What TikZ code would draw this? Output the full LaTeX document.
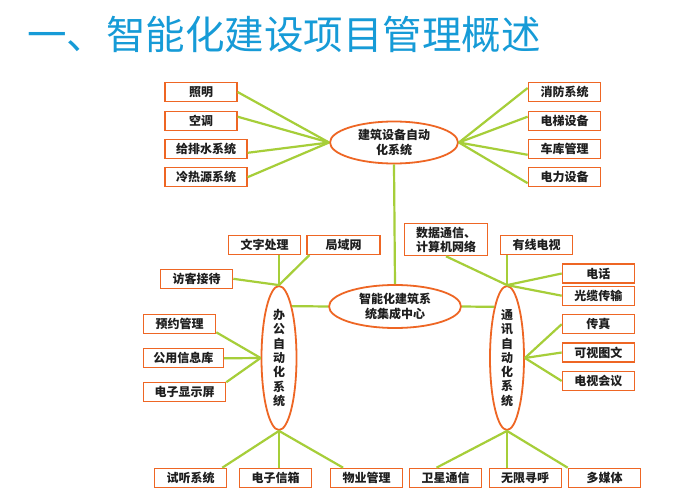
\documentclass[tikz,border=0pt]{standalone}
\usepackage{fontspec}
\setmainfont{Noto Sans CJK SC}
\usetikzlibrary{shapes.geometric}
\definecolor{boxor}{RGB}{238,102,36}
\definecolor{lngreen}{RGB}{166,206,57}
\definecolor{titleblue}{RGB}{22,155,215}
\definecolor{txt}{RGB}{30,30,30}
\begin{document}
\begin{tikzpicture}[x=1pt,y=-1pt,
  box/.style={draw=boxor,line width=1.2pt,fill=white,minimum height=19pt,inner sep=0pt,
    font=\fontsize{12}{14}\selectfont\bfseries,text=txt},
  oval/.style={ellipse,draw=boxor,line width=1.8pt,fill=white,inner sep=0pt,align=center,
    font=\fontsize{12}{14.3}\selectfont\bfseries,text=txt},
  link/.style={draw=lngreen,line width=2.2pt}]
\useasboundingbox[fill=white] (0,0) rectangle (681,495);
% title
\node[anchor=west,inner sep=0pt,text=titleblue,font=\fontsize{39.5}{44}\selectfont] (title) at (27,34) {一、智能化建设项目管理概述};
% ellipses
\node[oval,minimum width=128pt,minimum height=42pt] (bldg) at (394,142.5) {建筑设备自动\\化系统};
\node[oval,minimum width=132pt,minimum height=43pt] (center) at (395,306.5) {智能化建筑系\\统集成中心};
\node[oval,minimum width=35pt,minimum height=144pt] (office) at (279,358) {办\\公\\自\\动\\化\\系\\统};
\node[oval,minimum width=34pt,minimum height=144pt] (comm) at (507,358) {通\\讯\\自\\动\\化\\系\\统};
% building boxes
\node[box,minimum width=72pt] (zm) at (201,92) {照明};
\node[box,minimum width=72pt] (kt) at (201,120.7) {空调};
\node[box,minimum width=82pt] (gps) at (206,148.8) {给排水系统};
\node[box,minimum width=82pt] (lry) at (206,177.2) {冷热源系统};
\node[box,minimum width=72.5pt] (xf) at (564.5,92) {消防系统};
\node[box,minimum width=72.5pt] (dt) at (564.5,120.7) {电梯设备};
\node[box,minimum width=72.5pt] (ck) at (564.5,148.8) {车库管理};
\node[box,minimum width=72.5pt] (dl) at (564.5,177.2) {电力设备};
% office boxes
\node[box,minimum width=72.5pt] (wz) at (264.5,245) {文字处理};
\node[box,minimum width=73pt] (jy) at (343.5,245) {局域网};
\node[box,minimum width=72pt] (fk) at (196.7,278.8) {访客接待};
\node[box,minimum width=72.4pt] (yy) at (179.5,324.2) {预约管理};
\node[box,minimum width=80pt] (gy) at (183.3,358.3) {公用信息库};
\node[box,minimum width=82.4pt] (dz) at (184.5,392.3) {电子显示屏};
\node[box,minimum width=72.4pt] (st) at (190.5,477.8) {试听系统};
\node[box,minimum width=72.4pt] (dx) at (275.5,477.8) {电子信箱};
\node[box,minimum width=72pt] (wy) at (366.7,477.8) {物业管理};
% comm boxes
\node[box,minimum width=83.4pt,minimum height=32.4pt,align=left] (sj) at (446,239.5) {数据通信、\\计算机网络};
\node[box,minimum width=72pt] (yx) at (536.7,245) {有线电视};
\node[box,minimum width=72pt] (dh) at (598.3,273.5) {电话};
\node[box,minimum width=72pt] (gl) at (598.3,295.7) {光缆传输};
\node[box,minimum width=72pt] (cz) at (598.3,324.2) {传真};
\node[box,minimum width=72pt] (ks) at (598.3,352.5) {可视图文};
\node[box,minimum width=72pt] (ds) at (598.3,381) {电视会议};
\node[box,minimum width=72.4pt] (wx) at (445.5,477.8) {卫星通信};
\node[box,minimum width=72pt] (wh) at (525.2,477.8) {无限寻呼};
\node[box,minimum width=72.4pt] (dm) at (604.5,477.8) {多媒体};
% links: building
\draw[link] (zm.east) -- (bldg.west);
\draw[link] ([yshift=4pt]kt.east) -- (bldg.west);
\draw[link] ([yshift=-4pt]gps.east) -- (bldg.west);
\draw[link] (lry.east) -- (bldg.west);
\draw[link] ([yshift=4pt]xf.west) -- (bldg.east);
\draw[link] ([yshift=4pt]dt.west) -- (bldg.east);
\draw[link] ([yshift=-6pt]ck.west) -- (bldg.east);
\draw[link] ([yshift=-6pt]dl.west) -- (bldg.east);
\draw[link] (bldg.south) -- (center.north);
\draw[link] (center.west) -- (office.76);
\draw[link] (center.east) -- (comm.104);
% links: office
\draw[link] (office.north) -- (office.north |- wz.south);
\draw[link] ([xshift=3pt]jy.south west) -- (office.north);
\draw[link] (fk.east) -- (office.north);
\draw[link] ([yshift=2pt]yy.south east) -- (office.west);
\draw[link] (gy.east) -- (office.west);
\draw[link] (dz.north east) -- (office.west);
\draw[link] ([xshift=-5pt]st.north east) -- (office.south);
\draw[link] (office.south) -- (office.south |- dx.north);
\draw[link] ([xshift=13pt]wy.north west) -- (office.south);
% links: comm
\draw[link] (sj.south) -- (comm.north);
\draw[link] (comm.north) -- (comm.north |- yx.south);
\draw[link] (dh.west) -- (comm.north);
\draw[link] (gl.west) -- (comm.north);
\draw[link] (cz.west) -- (comm.east);
\draw[link] (ks.west) -- (comm.east);
\draw[link] (ds.west) -- (comm.east);
\draw[link] ([xshift=-9pt]wx.north) -- (comm.south);
\draw[link] (comm.south) -- (comm.south |- wh.north);
\draw[link] (dm.north west) -- (comm.south);
\end{tikzpicture}
\end{document}
